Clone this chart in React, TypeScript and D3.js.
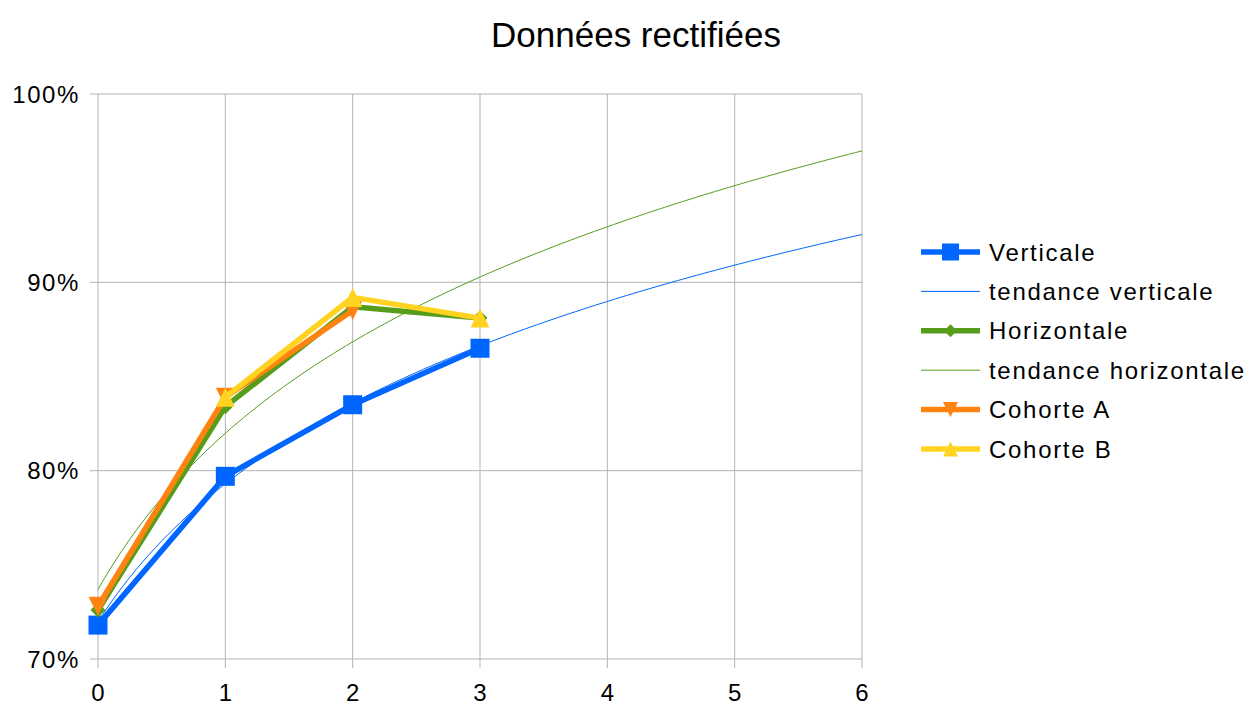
import React from "react";
import * as d3 from "d3";

const xValues = [0, 1, 2, 3];
const verticale = [71.8, 79.7, 83.5, 86.5];
const horizontale = [72.6, 83.4, 88.7, 88.1];
const cohorteA: (number | null)[] = [72.8, 83.9, 88.5, null];
const cohorteB: (number | null)[] = [null, 83.9, 89.2, 88.1];
const xTicks = [0, 1, 2, 3, 4, 5, 6];
const yTicks = [70, 80, 90, 100];

const W = 1249, H = 704;
const FONT = "'Liberation Sans', Arial, sans-serif";

function logFit(xs: number[], ys: number[]) {
  const lx = xs.map((x) => Math.log(x + 1));
  const mx = d3.mean(lx)!;
  const my = d3.mean(ys)!;
  let sxy = 0, sxx = 0;
  lx.forEach((v, i) => { sxy += (v - mx) * (ys[i] - my); sxx += (v - mx) * (v - mx); });
  const a = sxy / sxx;
  const b = my - a * mx;
  return (x: number) => a * Math.log(x + 1) + b;
}

export default function App() {
  const x = d3.scaleLinear().domain([0, 6]).range([98, 862]);
  const y = d3.scaleLinear().domain([70, 100]).range([659, 94]);

  const line = d3
    .line<[number, number | null]>()
    .defined((d) => d[1] !== null)
    .x((d) => x(d[0]))
    .y((d) => y(d[1] as number));

  const pts = (vals: (number | null)[]) => xValues.map((xv, i) => [xv, vals[i]] as [number, number | null]);

  const samples = d3.range(0, 6.0001, 0.05);
  const fitV = logFit(xValues, verticale);
  const fitH = logFit(xValues, horizontale);
  const trendV = line(samples.map((s) => [s, fitV(s)] as [number, number]))!;
  const trendH = line(samples.map((s) => [s, fitH(s)] as [number, number]))!;

  const BLUE = "#0066ff", GREEN = "#579d1c", ORANGE = "#ff8311", YELLOW = "#ffd320";

  const marker = (type: string, cx: number, cy: number, s: number, color: string, key?: string) => {
    const h = s / 2;
    if (type === "square") return <rect key={key} x={cx - h} y={cy - h} width={s} height={s} fill={color} />;
    if (type === "diamond") return <path key={key} d={`M${cx},${cy - h}L${cx + h},${cy}L${cx},${cy + h}L${cx - h},${cy}Z`} fill={color} />;
    if (type === "down") return <path key={key} d={`M${cx - h},${cy - h}L${cx + h},${cy - h}L${cx},${cy + h}Z`} fill={color} />;
    return <path key={key} d={`M${cx},${cy - h}L${cx + h},${cy + h}L${cx - h},${cy + h}Z`} fill={color} />;
  };

  const series = [
    { name: "Verticale", vals: verticale as (number | null)[], color: BLUE, m: "square", size: 19, lsize: 17 },
    { name: "Horizontale", vals: horizontale as (number | null)[], color: GREEN, m: "diamond", size: 15, lsize: 13 },
    { name: "Cohorte A", vals: cohorteA, color: ORANGE, m: "down", size: 19, lsize: 15 },
    { name: "Cohorte B", vals: cohorteB, color: YELLOW, m: "up", size: 19, lsize: 15 },
  ];

  const legendItems = [
    { label: "Verticale", color: BLUE, thick: true, m: "square", s: 17 },
    { label: "tendance verticale", color: BLUE, thick: false, m: "", s: 0 },
    { label: "Horizontale", color: GREEN, thick: true, m: "diamond", s: 13 },
    { label: "tendance horizontale", color: GREEN, thick: false, m: "", s: 0 },
    { label: "Cohorte A", color: ORANGE, thick: true, m: "down", s: 15 },
    { label: "Cohorte B", color: YELLOW, thick: true, m: "up", s: 15 },
  ];

  return (
    <svg width={W} height={H} style={{ position: "absolute", left: 0, top: 0, background: "#fff" }} fontFamily={FONT}>
      <rect width={W} height={H} fill="#fff" />
      <text x={636} y={34} fontSize={35} textAnchor="middle" dominantBaseline="central" fill="#000">
        Données rectifiées
      </text>
      {/* grid */}
      {yTicks.map((t) => (
        <line key={"gy" + t} x1={90} x2={862} y1={y(t)} y2={y(t)} stroke="#b3b3b3" strokeWidth={1} />
      ))}
      {xTicks.map((t) => (
        <line key={"gx" + t} x1={x(t)} x2={x(t)} y1={94} y2={668} stroke="#b3b3b3" strokeWidth={1} />
      ))}
      {yTicks.map((t) => (
        <text key={"ly" + t} x={80} y={y(t)} fontSize={24} letterSpacing={1.6} textAnchor="end" dominantBaseline="central" fill="#000">
          {t}%
        </text>
      ))}
      {xTicks.map((t) => (
        <text key={"lx" + t} x={x(t)} y={692} fontSize={24} textAnchor="middle" dominantBaseline="central" fill="#000">
          {t}
        </text>
      ))}
      {/* series */}
      <path d={trendV} fill="none" stroke={BLUE} strokeWidth={1} />
      {series.slice(0, 1).map((s) => (
        <g key={s.name}>
          <path d={line(pts(s.vals))!} fill="none" stroke={s.color} strokeWidth={5.5} strokeLinejoin="round" />
          {pts(s.vals).filter((p) => p[1] !== null).map((p, i) => marker(s.m, x(p[0]), y(p[1] as number), s.size, s.color, "m" + i))}
        </g>
      ))}
      <path d={trendH} fill="none" stroke={GREEN} strokeWidth={1} />
      {series.slice(1).map((s) => (
        <g key={s.name}>
          <path d={line(pts(s.vals))!} fill="none" stroke={s.color} strokeWidth={5.5} strokeLinejoin="round" />
          {pts(s.vals).filter((p) => p[1] !== null).map((p, i) => marker(s.m, x(p[0]), y(p[1] as number), s.size, s.color, "m" + i))}
        </g>
      ))}
      {/* legend */}
      {legendItems.map((it, i) => {
        const cy = 252 + i * 39.4;
        return (
          <g key={it.label}>
            <line x1={921} x2={980} y1={cy} y2={cy} stroke={it.color} strokeWidth={it.thick ? 5.5 : 1} />
            {it.m ? marker(it.m, 950.5, cy, it.s, it.color) : null}
            <text x={989} y={cy} fontSize={24} letterSpacing={1.7} dominantBaseline="central" fill="#000">
              {it.label}
            </text>
          </g>
        );
      })}
    </svg>
  );
}
